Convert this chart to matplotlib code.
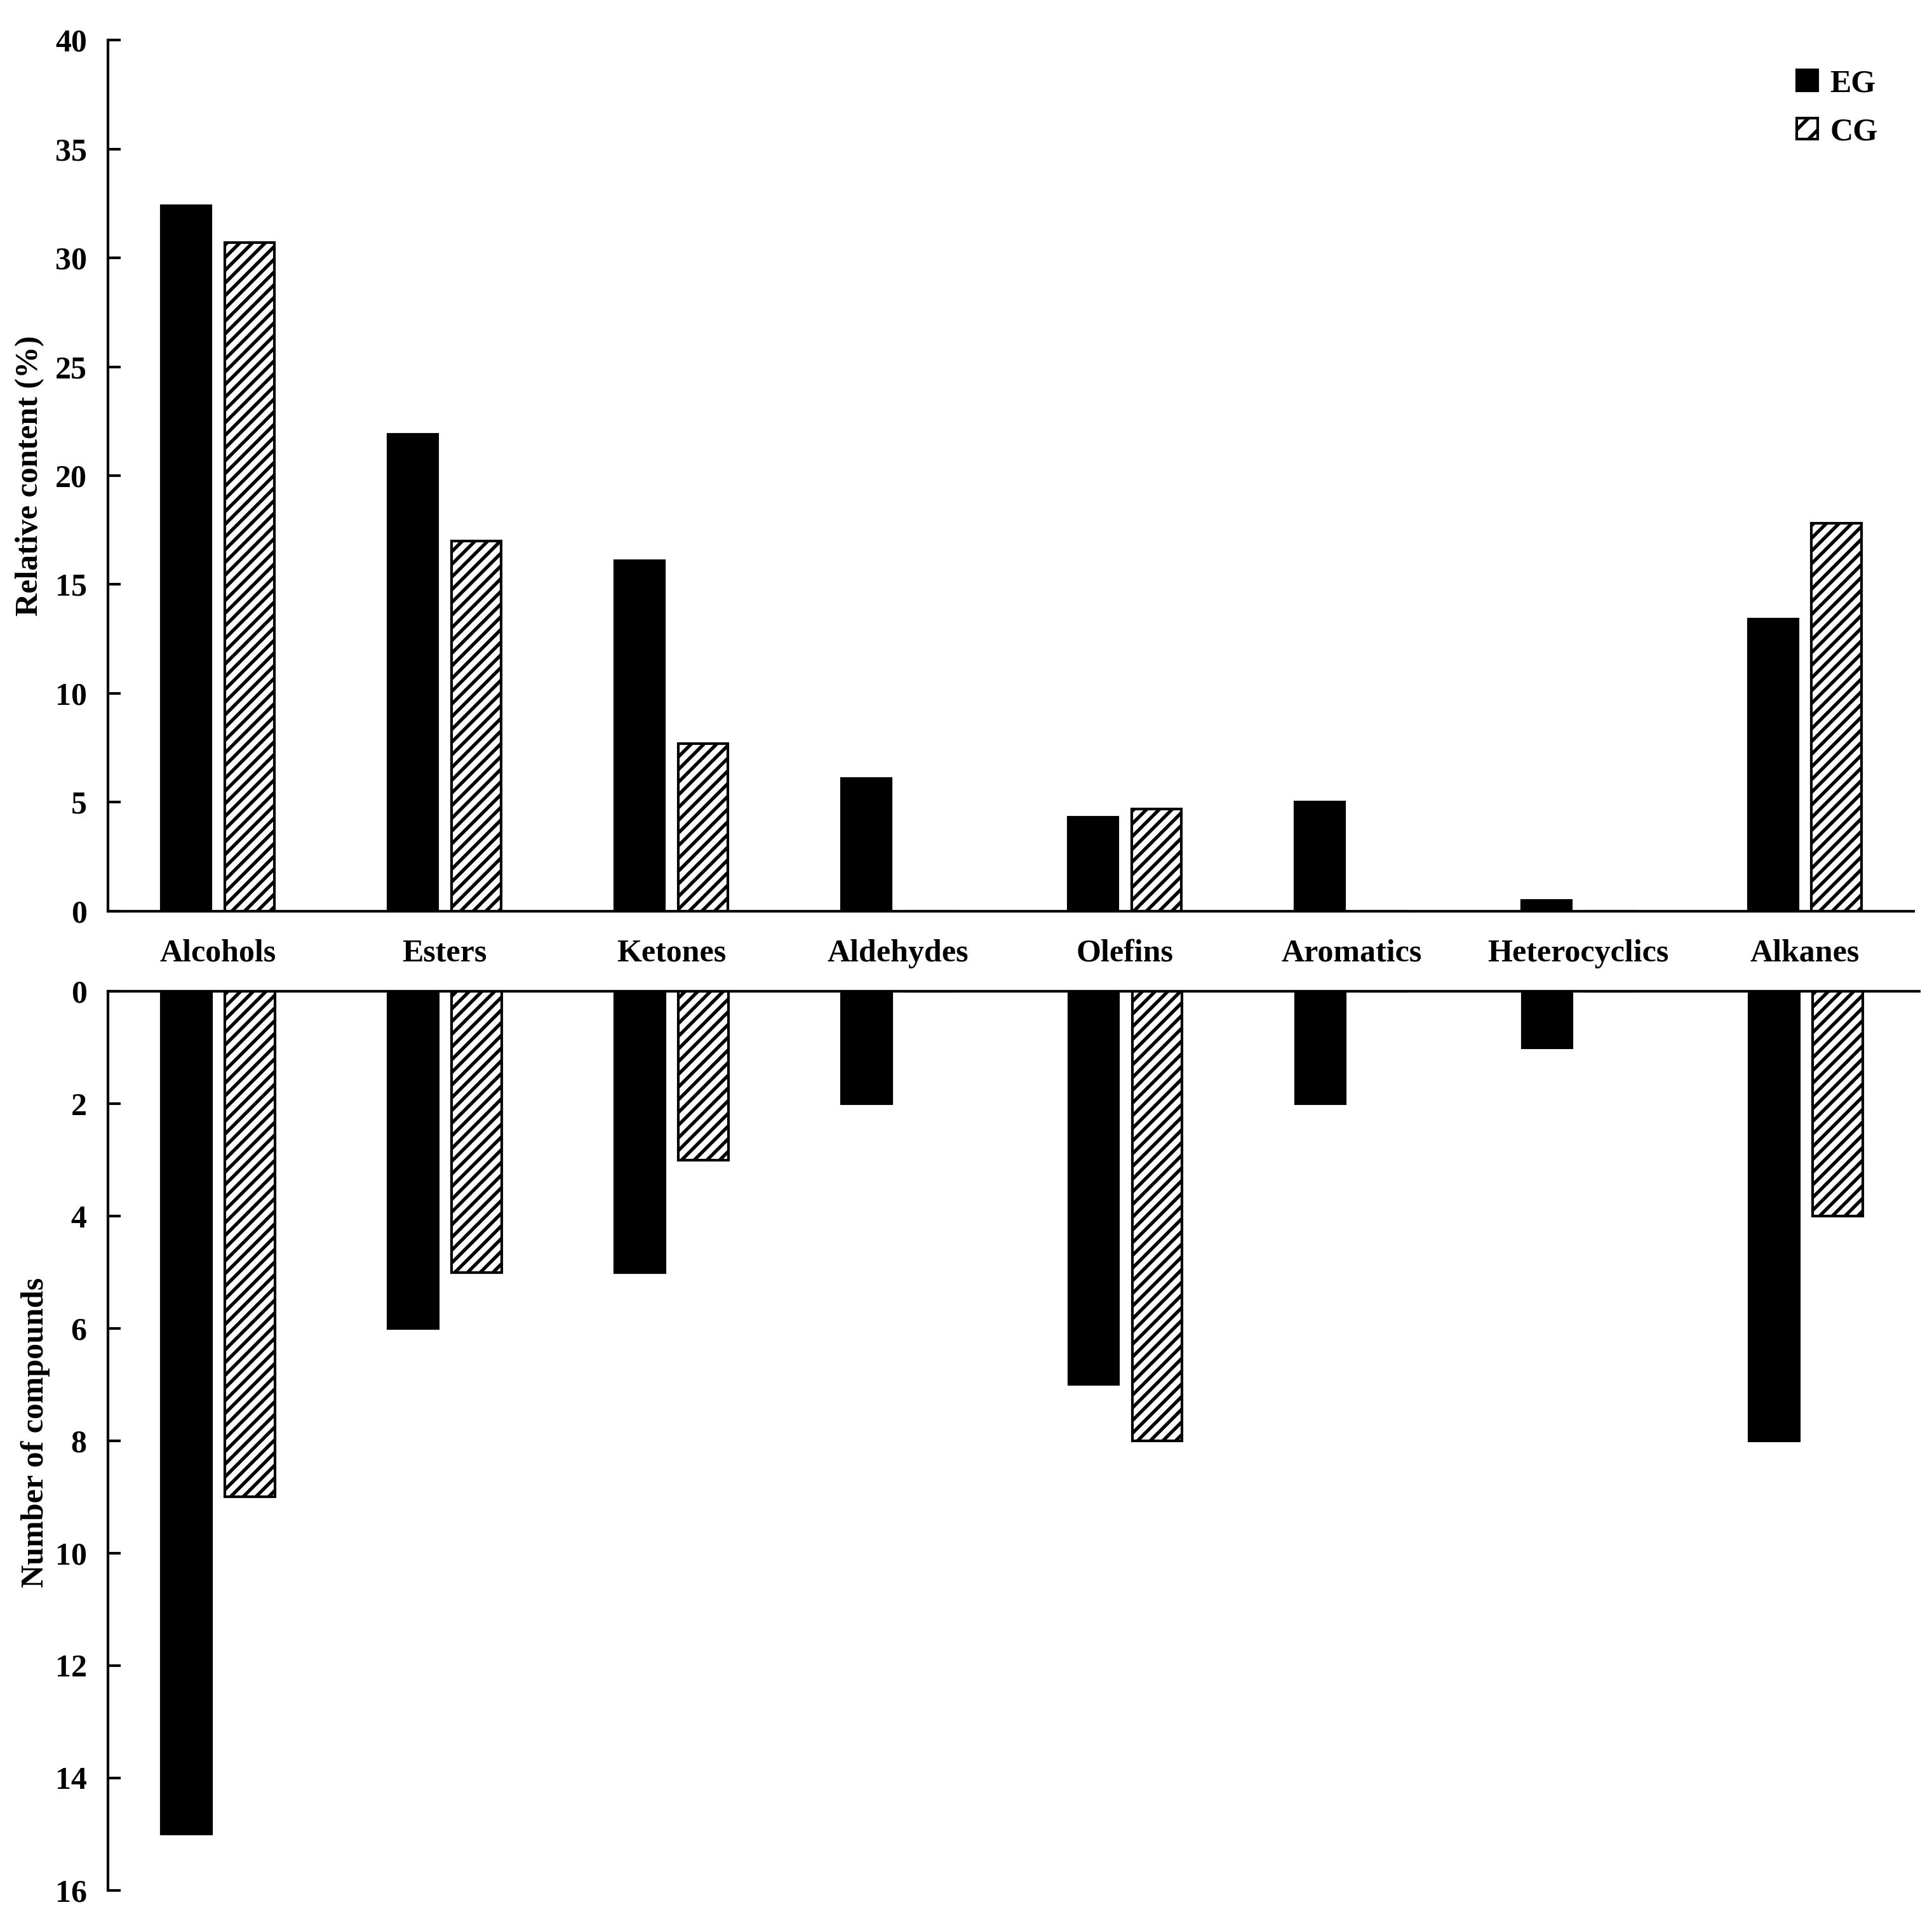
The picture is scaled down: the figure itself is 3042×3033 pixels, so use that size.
import matplotlib
matplotlib.use("Agg")
import matplotlib.pyplot as plt
from matplotlib.patches import Patch
import numpy as np

plt.rcParams["font.family"] = ["Liberation Serif", "DejaVu Serif"]
plt.rcParams["font.weight"] = "bold"
plt.rcParams["axes.labelweight"] = "bold"
plt.rcParams["hatch.linewidth"] = 1.3

categories = ["Alcohols", "Esters", "Ketones", "Aldehydes", "Olefins",
              "Aromatics", "Heterocyclics", "Alkanes"]

# relative content (%)
content_eg = [32.4, 21.9, 16.1, 6.1, 4.3, 5.0, 0.5, 13.4]
content_cg = [30.7, 17.0, 7.7, 0.0, 4.7, 0.0, 0.0, 17.8]

# number of compounds
count_eg = [15, 6, 5, 2, 7, 2, 1, 8]
count_cg = [9, 5, 3, 0, 8, 0, 0, 4]

FS = 12
W = 0.22
OFF = 0.14
HATCH = "/////"

fig = plt.figure(figsize=(3042 / 300, 3033 / 300), dpi=300)
ax_top = fig.add_axes([0.0559, 0.5269, 0.9346, 0.4523])
ax_bot = fig.add_axes([0.0559, 0.0185, 0.9375, 0.4668])

x = np.arange(len(categories))

# upper panel
ax_top.bar(x - OFF, content_eg, W, color="black", edgecolor="black", linewidth=1)
ax_top.bar(x + OFF, content_cg, W, color="white", edgecolor="black",
           linewidth=1, hatch=HATCH)
ax_top.set_ylim(0, 40)
ax_top.set_yticks(range(0, 41, 5))
ax_top.set_xlim(-0.485, 7.48)
ax_top.set_xticks(x)
ax_top.set_xticklabels(categories, fontsize=FS, fontweight="bold")
ax_top.tick_params(axis="x", length=0, pad=10.5)
ax_top.set_ylabel("Relative content (%)", fontsize=FS, fontweight="bold")
ax_top.yaxis.set_label_coords(-0.035, 0.5)
for s in ["top", "right"]:
    ax_top.spines[s].set_visible(False)

# lower panel (inverted)
ax_bot.bar(x - OFF, count_eg, W, color="black", edgecolor="black", linewidth=1)
ax_bot.bar(x + OFF, count_cg, W, color="white", edgecolor="black",
           linewidth=1, hatch=HATCH)
ax_bot.set_ylim(16, 0)
ax_bot.set_yticks(range(0, 17, 2))
ax_bot.set_xlim(-0.485, 7.50)
ax_bot.set_xticks([])
ax_bot.set_ylabel("Number of compounds", fontsize=FS, fontweight="bold")
ax_bot.yaxis.set_label_coords(-0.032, 0.509)
for s in ["bottom", "right"]:
    ax_bot.spines[s].set_visible(False)

for ax in (ax_top, ax_bot):
    for s in ax.spines.values():
        s.set_linewidth(1.0)
    ax.tick_params(axis="y", direction="in", length=4.8, width=1.0,
                   labelsize=FS, pad=8)
    for lab in ax.get_yticklabels():
        lab.set_fontweight("bold")

# legend
handles = [Patch(facecolor="black", edgecolor="black", label="EG"),
           Patch(facecolor="white", edgecolor="black", hatch="///", label="CG")]
fig.legend(handles=handles, loc="upper left", bbox_to_anchor=(0.930, 0.964),
           frameon=False, handlelength=0.65, handleheight=0.65,
           handletextpad=0.4, labelspacing=0.6, borderpad=0, borderaxespad=0,
           prop={"weight": "bold", "size": FS})

fig.savefig("out.png", dpi=300)
